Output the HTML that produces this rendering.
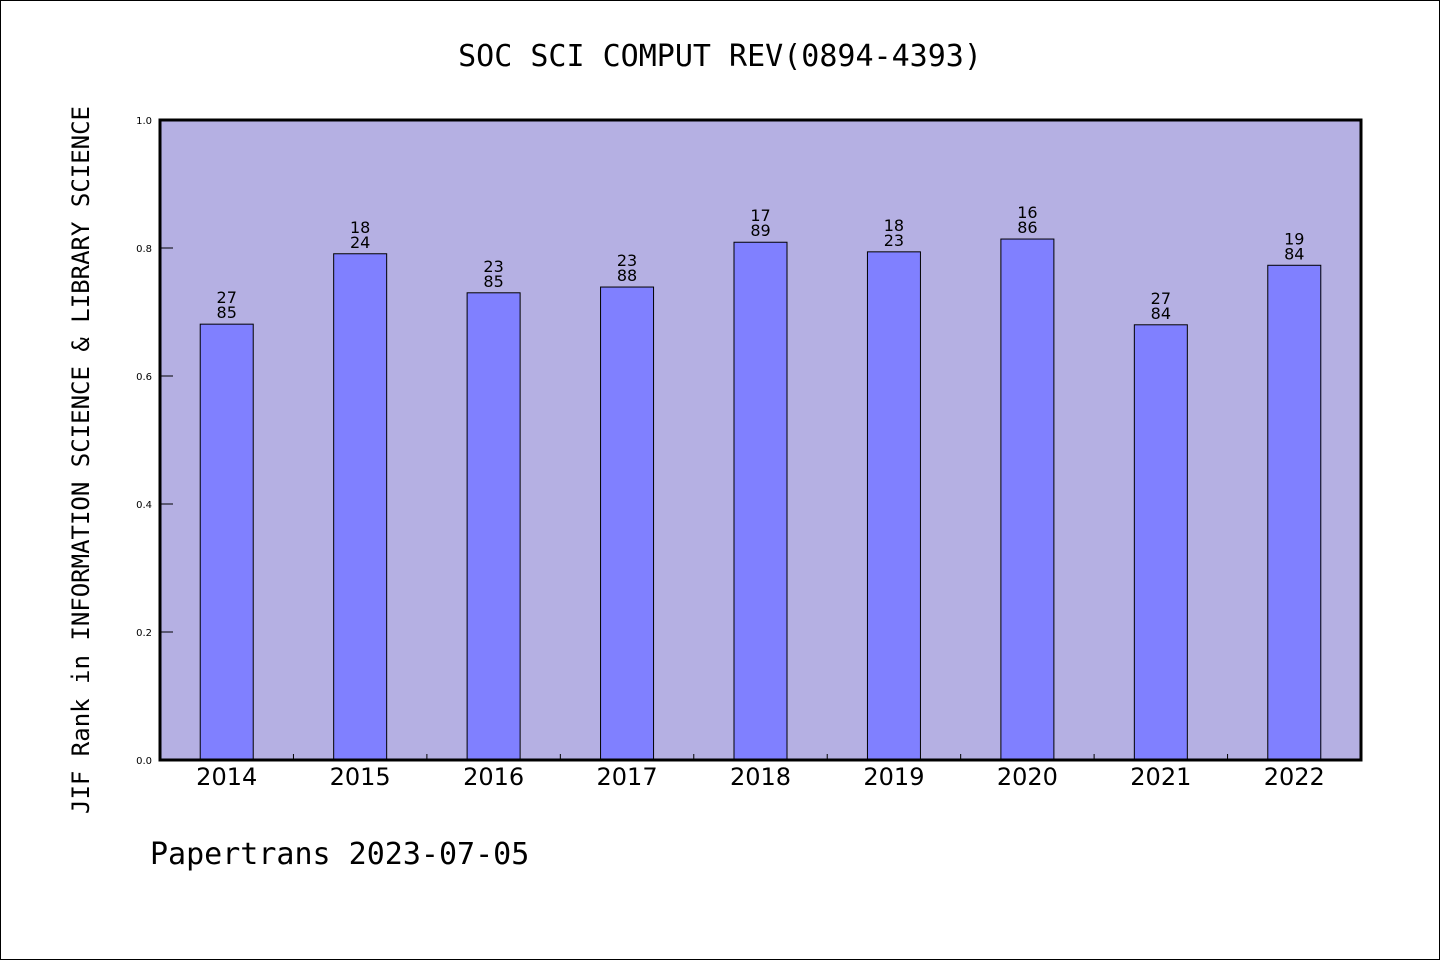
<!DOCTYPE html>
<html><head><meta charset="utf-8"><style>
html,body{margin:0;padding:0;background:#fff;}
svg{display:block;}
text{font-family:"DejaVu Sans Mono","Liberation Mono",monospace;fill:#000;}
.yr{font-family:"DejaVu Sans","Liberation Sans",sans-serif;font-size:24px;}
.tk{font-family:"DejaVu Sans","Liberation Sans",sans-serif;font-size:10px;}
.lb{font-family:"DejaVu Sans","Liberation Sans",sans-serif;font-size:16px;}
</style></head><body>
<svg id="chart" width="1440" height="960" viewBox="0 0 1440 960">
<rect x="0.5" y="0.5" width="1439" height="959" fill="#fff" stroke="#000"/>
<text x="720" y="66" text-anchor="middle" font-size="30">SOC SCI COMPUT REV(0894-4393)</text>
<rect x="160" y="120" width="1201" height="640" fill="#b5b0e3"/>
<g id="bars"></g>
<rect x="160" y="120" width="1201" height="640" fill="none" stroke="#000" stroke-width="3"/>
<text transform="translate(89,460) rotate(-90)" text-anchor="middle" font-size="24">JIF Rank in INFORMATION SCIENCE &amp; LIBRARY SCIENCE</text>
<text x="150" y="864" font-size="30">Papertrans 2023-07-05</text>
</svg>
<script>
const categories=["2014","2015","2016","2017","2018","2019","2020","2021","2022"];
const values=[0.681,0.791,0.730,0.739,0.809,0.794,0.814,0.680,0.773];
const labelTop=["27","18","23","23","17","18","16","27","19"];
const labelBottom=["85","24","85","88","89","23","86","84","84"];
const yTicks=[0,0.2,0.4,0.6,0.8,1.0];
const X0=160,X1=1361,Y0=760,Y1=120;
const band=(X1-X0)/categories.length;
const xc=i=>X0+band*(i+0.5);
const y=v=>Y0-(v)*(Y0-Y1);
const ns="http://www.w3.org/2000/svg";
const g=document.getElementById('bars');
function mk(t,a,txt){const e=document.createElementNS(ns,t);for(const k in a)e.setAttribute(k,a[k]);if(txt!=null)e.textContent=txt;return e;}
categories.forEach((c,i)=>{
  const bw=53;
  const r=mk('rect',{x:xc(i)-bw/2,y:y(values[i]),width:bw,height:Y0-y(values[i]),fill:'#8080ff',stroke:'#000','stroke-width':1});
  
  
  g.appendChild(r);
  const t1=mk('text',{x:xc(i),y:y(values[i])-21,'text-anchor':'middle',class:'lb'},labelTop[i]);
  
  
  g.appendChild(t1);
  const t2=mk('text',{x:xc(i),y:y(values[i])-6,'text-anchor':'middle',class:'lb'},labelBottom[i]);
  
  
  g.appendChild(t2);
  const yl=mk('text',{x:xc(i),y:785,'text-anchor':'middle',class:'yr'},c);
  
  
  g.appendChild(yl);
  if(i>0){
    const tk=mk('line',{x1:X0+band*i,x2:X0+band*i,y1:Y0,y2:Y0-6,stroke:'#000'});
    
    
    g.appendChild(tk);
  }
});
yTicks.forEach(v=>{
  const l=mk('line',{x1:X0,x2:X0+13,y1:y(v),y2:y(v),stroke:'#000'});
  
  
  g.appendChild(l);
  const t=mk('text',{x:152,y:y(v)+4,'text-anchor':'end',class:'tk'},v.toFixed(1));
  
  
  g.appendChild(t);
});
</script>
</body></html>
